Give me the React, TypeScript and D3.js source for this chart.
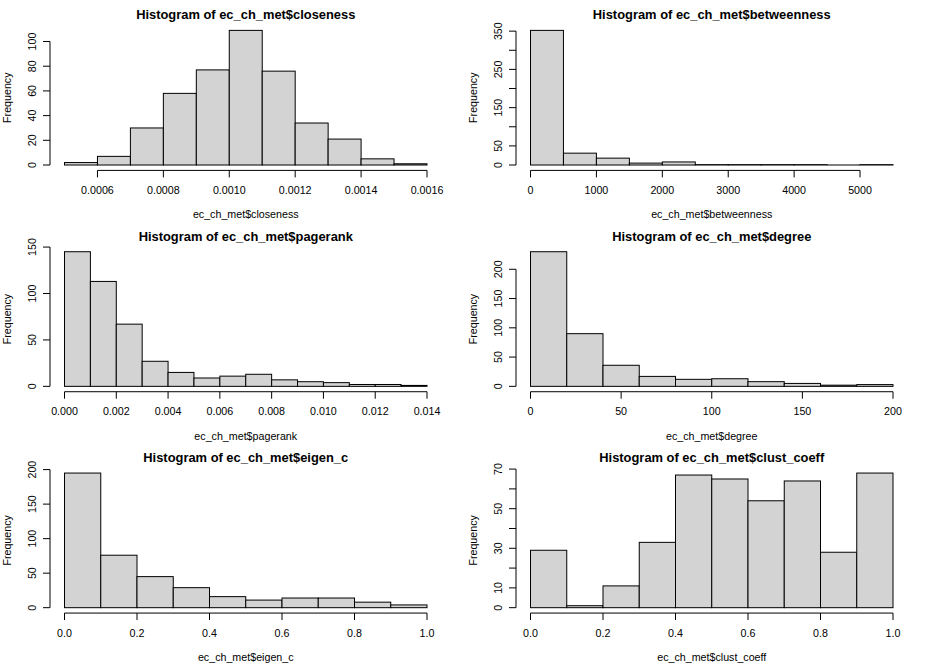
import React from "react";
import * as d3 from "d3";

// ---- data ----
const closenessBreaks = [0.0005, 0.0006, 0.0007, 0.0008, 0.0009, 0.001, 0.0011, 0.0012, 0.0013, 0.0014, 0.0015, 0.0016];
const closenessCounts = [2, 7, 30, 58, 77, 109, 76, 34, 21, 5, 1];
const closenessXTicks = [0.0006, 0.0008, 0.001, 0.0012, 0.0014, 0.0016];
const closenessYTicks = [0, 20, 40, 60, 80, 100];
const closenessYLabels = ["0", "20", "40", "60", "80", "100"];

const betweennessBreaks = [0, 500, 1000, 1500, 2000, 2500, 3000, 3500, 4000, 4500, 5000, 5500];
const betweennessCounts = [352, 31, 18, 5, 8, 1, 1, 1, 1, 0, 1];
const betweennessXTicks = [0, 1000, 2000, 3000, 4000, 5000];
const betweennessYTicks = [0, 50, 100, 150, 200, 250, 300, 350];
const betweennessYLabels = ["0", "50", "", "150", "", "250", "", "350"];

const pagerankBreaks = [0, 0.001, 0.002, 0.003, 0.004, 0.005, 0.006, 0.007, 0.008, 0.009, 0.01, 0.011, 0.012, 0.013, 0.014];
const pagerankCounts = [145, 113, 67, 27, 15, 9, 11, 13, 7, 5, 4, 2, 2, 1];
const pagerankXTicks = [0, 0.002, 0.004, 0.006, 0.008, 0.01, 0.012, 0.014];
const pagerankYTicks = [0, 50, 100, 150];
const pagerankYLabels = ["0", "50", "100", "150"];

const degreeBreaks = [0, 20, 40, 60, 80, 100, 120, 140, 160, 180, 200];
const degreeCounts = [230, 90, 36, 17, 12, 13, 8, 5, 2, 3];
const degreeXTicks = [0, 50, 100, 150, 200];
const degreeYTicks = [0, 50, 100, 150, 200];
const degreeYLabels = ["0", "50", "100", "150", "200"];

const eigenBreaks = [0, 0.1, 0.2, 0.3, 0.4, 0.5, 0.6, 0.7, 0.8, 0.9, 1.0];
const eigenCounts = [195, 76, 45, 29, 16, 11, 14, 14, 8, 4];
const eigenXTicks = [0, 0.2, 0.4, 0.6, 0.8, 1.0];
const eigenYTicks = [0, 50, 100, 150, 200];
const eigenYLabels = ["0", "50", "100", "150", "200"];

const clustBreaks = [0, 0.1, 0.2, 0.3, 0.4, 0.5, 0.6, 0.7, 0.8, 0.9, 1.0];
const clustCounts = [29, 1, 11, 33, 67, 65, 54, 64, 28, 68];
const clustXTicks = [0, 0.2, 0.4, 0.6, 0.8, 1.0];
const clustYTicks = [0, 10, 20, 30, 40, 50, 60, 70];
const clustYLabels = ["0", "10", "", "30", "", "50", "", "70"];

const FONT = "'Liberation Sans', Arial, sans-serif";
const PW = 466;
const PH = 664 / 3;
const L = 50, R = 441.5, T = 25, B = 170.4;

type PanelProps = {
  col: number; row: number; name: string;
  breaks: number[]; counts: number[];
  xTicks: number[]; xFmt: (v: number) => string;
  yTicks: number[]; yLabels: string[];
};

function Panel({ col, row, name, breaks, counts, xTicks, xFmt, yTicks, yLabels }: PanelProps) {
  const b0 = breaks[0], b1 = breaks[breaks.length - 1];
  const ext = (b1 - b0) * 0.04;
  const x = d3.scaleLinear().domain([b0 - ext, b1 + ext]).range([L, R]);
  const maxC = d3.max(counts) as number;
  const y = d3.scaleLinear().domain([-0.04 * maxC, 1.04 * maxC]).range([B, T]);
  const tx = col * PW, ty = row * PH;
  const cx = (L + R) / 2;
  const cy = (T + B) / 2;
  return (
    <g transform={`translate(${tx},${ty})`}>
      <text x={cx} y={19.3} textAnchor="middle" fontFamily={FONT} fontWeight="bold" fontSize={12.9}>
        {`Histogram of ec_ch_met$${name}`}
      </text>
      {counts.map((c, i) =>
        c > 0 ? (
          <rect key={i} x={x(breaks[i])} y={y(c)} width={x(breaks[i + 1]) - x(breaks[i])}
            height={y(0) - y(c)} fill="#D3D3D3" stroke="#000" strokeWidth={1} />
        ) : (
          <line key={i} x1={x(breaks[i])} x2={x(breaks[i + 1])} y1={y(0)} y2={y(0)} stroke="#000" strokeWidth={1} />
        )
      )}
      {/* x axis */}
      <line x1={x(xTicks[0])} x2={x(xTicks[xTicks.length - 1])} y1={B} y2={B} stroke="#000" />
      {xTicks.map((t, i) => (
        <g key={i}>
          <line x1={x(t)} x2={x(t)} y1={B} y2={B + 7} stroke="#000" />
          <text x={x(t)} y={194} textAnchor="middle" fontFamily={FONT} fontSize={10.7}>{xFmt(t)}</text>
        </g>
      ))}
      {/* y axis */}
      <line x1={L} x2={L} y1={y(yTicks[0])} y2={y(yTicks[yTicks.length - 1])} stroke="#000" />
      {yTicks.map((t, i) => (
        <g key={i}>
          <line x1={L - 7} x2={L} y1={y(t)} y2={y(t)} stroke="#000" />
          {yLabels[i] ? (
            <text transform={`translate(35.7,${y(t)}) rotate(-90)`} textAnchor="middle"
              fontFamily={FONT} fontSize={10.7}>{yLabels[i]}</text>
          ) : null}
        </g>
      ))}
      <text x={cx} y={218.3} textAnchor="middle" fontFamily={FONT} fontSize={10.7}>{`ec_ch_met$${name}`}</text>
      <text transform={`translate(11,${cy}) rotate(-90)`} textAnchor="middle" fontFamily={FONT} fontSize={10.7}>Frequency</text>
    </g>
  );
}

export default function App() {
  const f4 = d3.format(".4f");
  const f3 = d3.format(".3f");
  const f1 = d3.format(".1f");
  const fd = (v: number) => String(v);
  return (
    <div style={{ position: "absolute", left: 0, top: 0 }}>
      <svg width={932} height={664} style={{ display: "block", background: "#fff" }}>
        <Panel col={0} row={0} name="closeness" breaks={closenessBreaks} counts={closenessCounts}
          xTicks={closenessXTicks} xFmt={f4} yTicks={closenessYTicks} yLabels={closenessYLabels} />
        <Panel col={1} row={0} name="betweenness" breaks={betweennessBreaks} counts={betweennessCounts}
          xTicks={betweennessXTicks} xFmt={fd} yTicks={betweennessYTicks} yLabels={betweennessYLabels} />
        <Panel col={0} row={1} name="pagerank" breaks={pagerankBreaks} counts={pagerankCounts}
          xTicks={pagerankXTicks} xFmt={f3} yTicks={pagerankYTicks} yLabels={pagerankYLabels} />
        <Panel col={1} row={1} name="degree" breaks={degreeBreaks} counts={degreeCounts}
          xTicks={degreeXTicks} xFmt={fd} yTicks={degreeYTicks} yLabels={degreeYLabels} />
        <Panel col={0} row={2} name="eigen_c" breaks={eigenBreaks} counts={eigenCounts}
          xTicks={eigenXTicks} xFmt={f1} yTicks={eigenYTicks} yLabels={eigenYLabels} />
        <Panel col={1} row={2} name="clust_coeff" breaks={clustBreaks} counts={clustCounts}
          xTicks={clustXTicks} xFmt={f1} yTicks={clustYTicks} yLabels={clustYLabels} />
      </svg>
    </div>
  );
}
